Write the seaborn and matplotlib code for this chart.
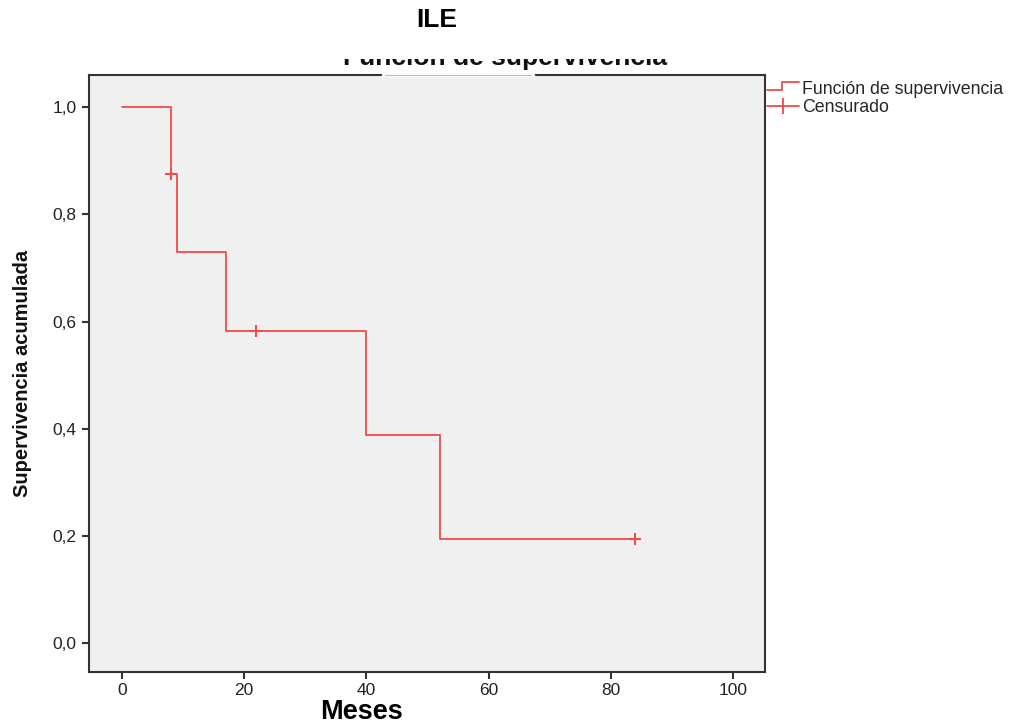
import matplotlib
matplotlib.use('Agg')
import matplotlib.pyplot as plt
import seaborn as sns
import pandas as pd
from matplotlib.lines import Line2D
from matplotlib.legend_handler import HandlerBase
from matplotlib.patches import Rectangle

# Kaplan-Meier steps (months, cumulative survival)
step_months = [0, 8, 9, 17, 40, 52, 84]
step_surv = [1.0, 0.875, 0.729, 0.583, 0.389, 0.194, 0.194]
# censored cases
cens_months = [8, 22, 84]
cens_surv = [0.875, 0.583, 0.194]

y_ticks = [0.0, 0.2, 0.4, 0.6, 0.8, 1.0]
y_ticklabels = ['0,0', '0,2', '0,4', '0,6', '0,8', '1,0']
x_ticks = [0, 20, 40, 60, 80, 100]

red = '#f04a4a'

sns.set_theme(style='white')
plt.rcParams['font.family'] = ['Liberation Sans', 'DejaVu Sans']

fig = plt.figure(figsize=(10.14, 7.24), dpi=100)
W, H = 1014, 724
ax = fig.add_axes([89 / W, 1 - 672 / H, (765 - 89) / W, (672 - 75) / H])
ax.set_facecolor('#f0f0f0')

df = pd.DataFrame({'months': step_months, 'surv': step_surv})
sns.lineplot(data=df, x='months', y='surv', drawstyle='steps-post', color=red,
             lw=1.3, ax=ax, legend=False)
cdf = pd.DataFrame({'months': cens_months, 'surv': cens_surv})
sns.scatterplot(data=cdf, x='months', y='surv', marker='+', s=80, color=red,
                linewidth=1.5, ax=ax, legend=False, zorder=3)

ax.set_xlim(-5.4, 105.2)
ax.set_ylim(-0.054, 1.06)
ax.set_xticks(x_ticks)
ax.set_yticks(y_ticks)
ax.set_yticklabels(y_ticklabels)
ax.tick_params(axis='both', direction='out', length=5, width=1.5, color='#333333',
               labelsize=12.5, labelcolor='#222222', pad=3, bottom=True, left=True)
ax.tick_params(axis='y', pad=4)
for s in ax.spines.values():
    s.set_color('#333333')
    s.set_linewidth(1.5)
ax.set_xlabel('')
ax.set_ylabel('Supervivencia acumulada', fontsize=14.5, fontweight='bold', labelpad=15,
              color='#111111')


# step-shaped legend icon
class StepHandler(HandlerBase):
    def create_artists(self, legend, orig, x0, y0, width, height, fontsize, trans):
        xs = [x0, x0 + width * 0.47, x0 + width * 0.47, x0 + width]
        ys = [y0 + height * 0.3, y0 + height * 0.3, y0 + height * 0.95, y0 + height * 0.95]
        return [Line2D(xs, ys, color=red, lw=1.3, transform=trans)]


h_step = Line2D([], [], color=red)
h_cens = Line2D([], [], color=red, lw=1.3, marker='|', markersize=12, markeredgewidth=1.3)
leg = fig.legend([h_step, h_cens], ['Función de supervivencia', 'Censurado'],
                 handler_map={h_step: StepHandler()},
                 loc='upper left', bbox_to_anchor=(767 / W, 1 - 81 / H),
                 frameon=False, fontsize=12.8, handlelength=1.8, handletextpad=0.15,
                 labelspacing=0.05, borderaxespad=0, borderpad=0)

# partially hidden chart title
fig.text(505 / W, 1 - 65 / H, 'Función de supervivencia', ha='center', va='baseline',
         fontsize=19, fontweight='bold', color='#111111')
fig.patches.append(Rectangle((300 / W, 1 - 59 / H), 420 / W, 24 / H, transform=fig.transFigure,
                             facecolor='white', edgecolor='none', zorder=5))
fig.lines.append(Line2D([383 / W, 533 / W], [1 - 75 / H, 1 - 75 / H], transform=fig.transFigure,
                        color='white', lw=2.5, zorder=6))
fig.lines.append(Line2D([385 / W, 531 / W], [1 - 75 / H, 1 - 75 / H], transform=fig.transFigure,
                        color='#bbbbbb', lw=0.8, zorder=7))

fig.text(437 / W, 1 - 20 / H, 'ILE', ha='center', va='center', fontsize=19,
         fontweight='bold', color='black', zorder=8,
         family=['Liberation Sans Narrow', 'Liberation Sans'])
fig.text(361 / W, 1 - 712 / H, 'Meses', ha='center', va='center', fontsize=19.5,
         fontweight='bold', color='black')

fig.savefig('out.png', dpi=100)
